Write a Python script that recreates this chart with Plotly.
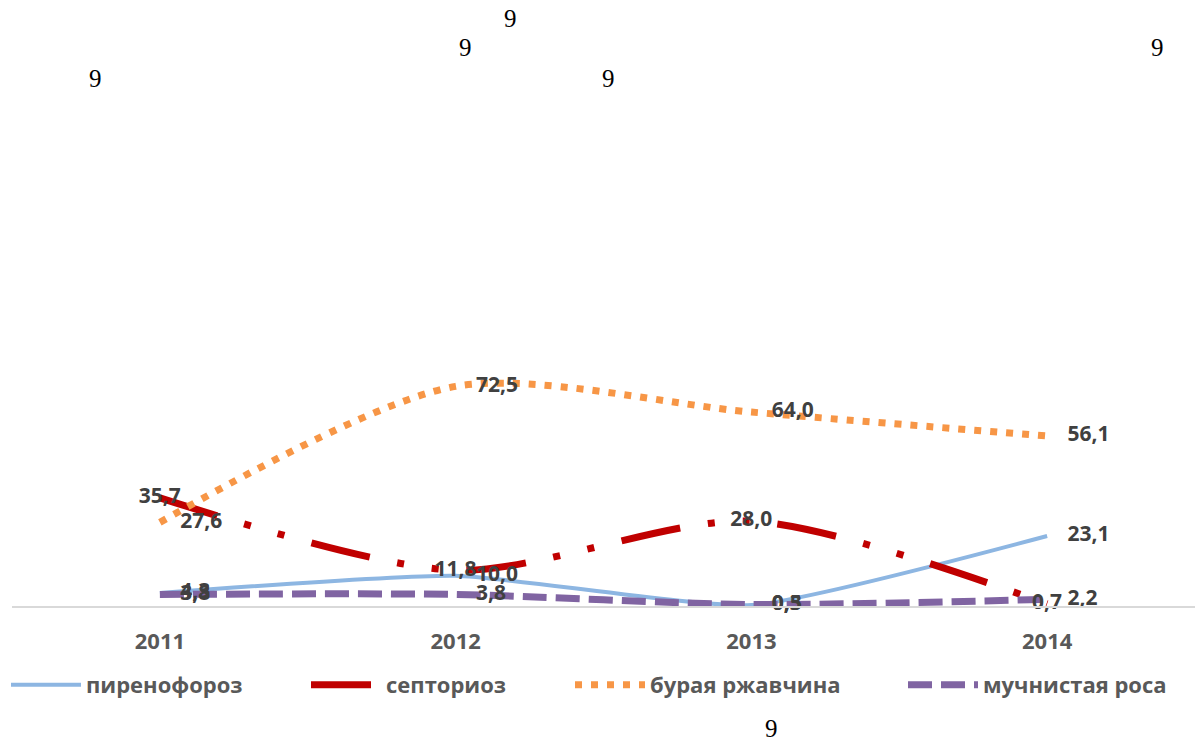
import plotly.graph_objects as go

years = ["2011", "2012", "2013", "2014"]
pyrenophorosis = [4.3, 10.0, 0.3, 23.1]
septoria = [35.7, 11.8, 28.0, 0.7]
brown_rust = [27.6, 72.5, 64.0, 56.1]
powdery_mildew = [3.8, 3.8, 0.5, 2.2]
names = ["пиренофороз", "септориоз", "бурая ржавчина", "мучнистая роса"]

stray_marks = ["9", "9", "9", "9", "9", "9"]


def fmt(v):
    return f"{v:.1f}".replace(".", ",")


FONT = "Open Sans"
LABEL_FONT = dict(family=FONT, size=21, color="#404040", weight="bold")

W, H = 1195, 745
L, R, T, B = 12, 0, 303, 139
PW, PH = W - L - R, H - T - B

fig = go.Figure()
legend_x_px = [6, 306, 570, 903]
legend_ids = ["legend", "legend2", "legend3", "legend4"]

series = [
    (0, pyrenophorosis, "#8DB6E2", 4, "solid", "middle right", 31, 0.5),
    (1, septoria, "#C00000", 7, "60px,28px,7px,28px,7px,28px", "middle center", 0, 0.8),
    (2, brown_rust, "#F79646", 7, "7px,9px", "middle right", 31, 0.8),
    (3, powdery_mildew, "#8064A2", 7, "24px,9px", "middle right", 31, 0.8),
]

for i, vals, color, width, dash, textpos, msize, smoothing in series:
    fig.add_trace(go.Scatter(
        x=years, y=vals, name=names[i],
        mode="lines",
        line=dict(color=color, width=width, dash=dash, shape="spline", smoothing=smoothing),
        legend=legend_ids[i],
        hoverinfo="skip",
    ))

for i, vals, color, width, dash, textpos, msize, smoothing in series:
    fig.add_trace(go.Scatter(
        x=years, y=vals, name=names[i],
        mode="markers+text",
        marker=dict(size=msize, opacity=0, color=color),
        text=[fmt(v) for v in vals],
        textposition=textpos,
        textfont=LABEL_FONT,
        cliponaxis=False,
        showlegend=False,
        hoverinfo="skip",
    ))

# stray glyphs present in the reference image
marks_pos = [(95, 78), (465, 48), (510, 18), (608, 78), (1157, 48), (771, 728)]
for ch, (px, py) in zip(stray_marks, marks_pos):
    fig.add_annotation(
        x=(px - L) / PW, y=(H - B - py) / PH,
        xref="paper", yref="paper", text=ch, showarrow=False,
        font=dict(family="Liberation Serif", size=25, color="#000000"),
        xanchor="center", yanchor="middle",
    )

legend_common = dict(
    orientation="h", yanchor="middle", y=(606 - 685) / PH, xanchor="left",
    font=dict(family=FONT, size=22, color="#595959", weight="bold"),
    itemwidth=70, bgcolor="rgba(0,0,0,0)",
)
layout_legends = {}
for lid, px in zip(legend_ids, legend_x_px):
    layout_legends[lid] = dict(legend_common, x=(px - L) / PW)

fig.update_layout(
    width=W, height=H,
    margin=dict(l=L, r=R, t=T, b=B, pad=0, autoexpand=False),
    paper_bgcolor="white", plot_bgcolor="white",
    showlegend=True,
    xaxis=dict(
        type="category", range=[-0.5, 3.5],
        showline=True, linecolor="#D9D9D9", linewidth=2,
        showgrid=False, zeroline=False, ticks="",
        tickfont=dict(family=FONT, size=22, color="#595959", weight="bold"),
        ticklabelstandoff=15,
    ),
    yaxis=dict(
        range=[0, 100], visible=False, showgrid=False, zeroline=False,
    ),
    **layout_legends,
)

fig.write_html("out.html", config={"displayModeBar": False},
               post_script="document.body.style.margin='0';")
